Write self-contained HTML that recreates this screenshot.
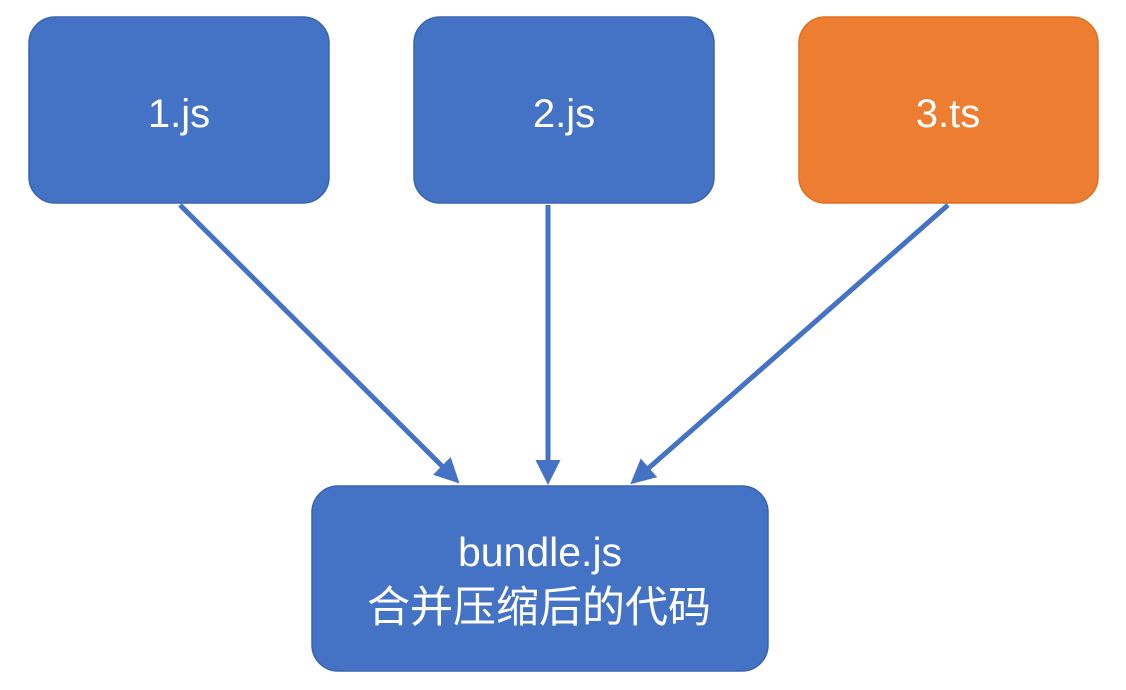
<!DOCTYPE html>
<html><head><meta charset="utf-8"><style>
body{margin:0;width:1126px;height:685px;background:#fff;overflow:hidden}
</style></head><body>
<svg width="1126" height="685" xmlns="http://www.w3.org/2000/svg">
<defs><marker id="a" markerWidth="5" markerHeight="5" refX="4" refY="2.5" orient="auto" markerUnits="strokeWidth"><path d="M0,0 L5,2.5 L0,5 Z" fill="#4472C4"/></marker></defs>
<g stroke="#3A64AE" stroke-width="1.5">
<rect x="29" y="17" width="300" height="186" rx="26" fill="#4472C4"/>
<rect x="414" y="17" width="300" height="186" rx="26" fill="#4472C4"/>
<rect x="799" y="17" width="299" height="186" rx="26" fill="#ED7D31" stroke="#E07020"/>
<rect x="312" y="486" width="456" height="185" rx="26" fill="#4472C4"/>
</g>
<g stroke="#4472C4" stroke-width="5" fill="none">
<line x1="180" y1="205" x2="456" y2="480" marker-end="url(#a)"/>
<line x1="548" y1="205" x2="548" y2="480" marker-end="url(#a)"/>
<line x1="948" y1="205" x2="634" y2="481" marker-end="url(#a)"/>
</g>
<g fill="#fff" font-family="'Liberation Sans','Noto Sans CJK SC',sans-serif" font-size="40" text-anchor="middle">
<text x="179" y="127">1.js</text>
<text x="564" y="127">2.js</text>
<text x="948" y="127">3.ts</text>
<text x="540" y="566" font-size="41">bundle.js</text>
<text x="539" y="622" font-size="43">合并压缩后的代码</text>
</g>
</svg>
</body></html>
